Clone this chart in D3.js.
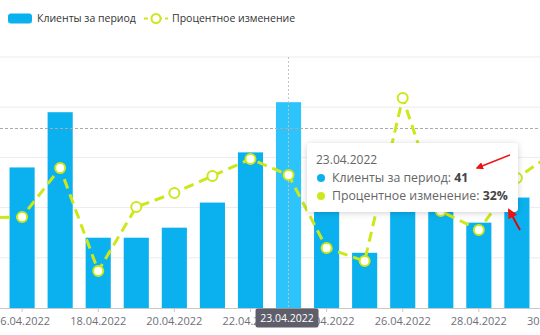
<!DOCTYPE html>
<html>
<head>
<meta charset="utf-8">
<script src="https://cdn.jsdelivr.net/npm/d3@7"></script>
<style>
  body { margin: 0; background: #fff; font-family: "Open Sans", "Noto Sans", sans-serif; }
  svg { display: block; }
</style>
</head>
<body>
<svg id="chart" width="540" height="335"></svg>
<script>
// data (15.04 and 30.04 are mostly cut off at the edges)
var dates = ["15.04.2022","16.04.2022","17.04.2022","18.04.2022","19.04.2022","20.04.2022","21.04.2022","22.04.2022",
             "23.04.2022","24.04.2022","25.04.2022","26.04.2022","27.04.2022","28.04.2022","29.04.2022","30.04.2022"];
var clients = [31, 28, 39, 14, 14, 16, 21, 31, 41, 24, 11, 23, 22, 17, 22, 34];
var pctChange = [-11, -10, 39, -64, 0, 14, 31, 48, 32, -41, -54, 109, -4, -23, 29, 55];
var yTicks = [0, 10, 20, 30, 40, 50];
var labelDates = ["16.04.2022","18.04.2022","20.04.2022","22.04.2022","24.04.2022","26.04.2022","28.04.2022","30.04.2022"];
var activeDate = "23.04.2022";

var barColor = "#0bb0ee",
    barHover = "#2cc4fb",
    lineColor = "#cde81a";

var svg = d3.select("#chart");

var x = d3.scaleBand()
    .domain(dates)
    .range([-35, 574])
    .paddingInner(0.34)
    .paddingOuter(0.17);

var y = d3.scaleLinear().domain([0, 50]).range([308, 57]);
var y2 = d3.scaleLinear().domain([-100, 100]).range([307, 107]);

// grid
svg.append("g").selectAll("line")
    .data(yTicks.slice(1))
    .enter().append("line")
    .attr("x1", 0).attr("x2", 540)
    .attr("y1", function(d) { return y(d); })
    .attr("y2", function(d) { return y(d); })
    .attr("stroke", "#ececec")
    .attr("stroke-width", 1);

// bars
svg.append("g").selectAll("rect")
    .data(dates)
    .enter().append("rect")
    .attr("x", function(d) { return x(d); })
    .attr("width", x.bandwidth())
    .attr("y", function(d, i) { return y(clients[i]); })
    .attr("height", function(d, i) { return y(0) - y(clients[i]); })
    .attr("fill", function(d) { return d == activeDate ? barHover : barColor; });

// crosshair
var cx = x(activeDate) + x.bandwidth() / 2;
svg.append("line")
    .attr("x1", cx).attr("x2", cx).attr("y1", 57).attr("y2", 308)
    .attr("stroke", "#c4c4c4").attr("stroke-dasharray", "2,2");
svg.append("line")
    .attr("x1", 0).attr("x2", 540).attr("y1", 128.5).attr("y2", 128.5)
    .attr("stroke", "#aaa").attr("stroke-dasharray", "3,2");

// x axis
var xAxis = svg.append("g")
    .attr("transform", "translate(0,308)")
    .call(d3.axisBottom(x).tickValues(labelDates).tickSize(4).tickPadding(5));
xAxis.select(".domain").attr("stroke", "#c8c8c8");
xAxis.selectAll(".tick line").attr("stroke", "#c8c8c8");
xAxis.selectAll(".tick text")
    .attr("fill", "#6e7079")
    .style("font-family", "Open Sans, sans-serif")
    .style("font-size", "11px");

// highlighted axis label
var hl = svg.append("g").attr("transform", "translate(" + cx + ",318)");
hl.append("rect")
    .attr("x", -33).attr("y", -9.5).attr("width", 63).attr("height", 19).attr("rx", 2)
    .attr("fill", "#5f5f6b");
hl.append("text")
    .attr("x", -1.5).attr("dy", "0.35em")
    .attr("text-anchor", "middle")
    .attr("fill", "#fff")
    .style("font-size", "10.5px")
    .text(activeDate);

// percent change line
var line = d3.line()
    .x(function(d, i) { return x(dates[i]) + x.bandwidth() / 2; })
    .y(function(d) { return y2(d); });

svg.append("path")
    .datum(pctChange)
    .attr("fill", "none")
    .attr("stroke", lineColor)
    .attr("stroke-width", 3)
    .attr("stroke-dasharray", "10,6")
    .attr("d", line);

svg.append("g").selectAll("circle")
    .data(pctChange)
    .enter().append("circle")
    .attr("cx", function(d, i) { return x(dates[i]) + x.bandwidth() / 2; })
    .attr("cy", function(d) { return y2(d); })
    .attr("r", 5)
    .attr("fill", "#fff")
    .attr("stroke", lineColor)
    .attr("stroke-width", 2);

// legend
var lg = svg.append("g").style("font-size", "10.5px");
lg.append("rect").attr("x", 8).attr("y", 13.5).attr("width", 24).attr("height", 10).attr("rx", 3).attr("fill", barColor);
lg.append("text").attr("x", 37).attr("y", 18.5).attr("dy", "0.35em").attr("fill", "#333").text("Клиенты за период");
lg.append("line").attr("x1", 144).attr("x2", 168).attr("y1", 18.5).attr("y2", 18.5)
    .attr("stroke", lineColor).attr("stroke-width", 2).attr("stroke-dasharray", "4,3");
lg.append("circle").attr("cx", 156).attr("cy", 18.5).attr("r", 4.5)
    .attr("fill", "#fff").attr("stroke", lineColor).attr("stroke-width", 2);
lg.append("text").attr("x", 172).attr("y", 18.5).attr("dy", "0.35em").attr("fill", "#333").text("Процентное изменение");

// tooltip
var defs = svg.append("defs");
var f = defs.append("filter").attr("id", "shadow").attr("x", "-20%").attr("y", "-30%").attr("width", "140%").attr("height", "160%");
f.append("feDropShadow").attr("dx", 0).attr("dy", 1).attr("stdDeviation", 3).attr("flood-color", "#000").attr("flood-opacity", 0.18);

var tip = svg.append("g").attr("transform", "translate(307,143)");
tip.append("rect")
    .attr("width", 211).attr("height", 69).attr("rx", 4)
    .attr("fill", "#fff")
    .attr("filter", "url(#shadow)");
tip.append("text").attr("x", 9).attr("y", 21)
    .attr("fill", "#666").style("font-size", "12px").text(activeDate);

var ai = dates.indexOf(activeDate);
var rows = [
  { color: barColor, label: "Клиенты за период: ", value: clients[ai] },
  { color: lineColor, label: "Процентное изменение: ", value: pctChange[ai] + "%" }
];
rows.forEach(function(r, i) {
  var yy = 35 + i * 18;
  tip.append("circle").attr("cx", 14).attr("cy", yy).attr("r", 4).attr("fill", r.color);
  var t = tip.append("text").attr("x", 25).attr("y", yy).attr("dy", "0.35em")
      .attr("fill", "#666").style("font-size", "12.3px");
  t.append("tspan").text(r.label);
  t.append("tspan").attr("font-weight", "bold").attr("fill", "#444").text(r.value);
});

// red annotation arrows
var mk = defs.append("marker").attr("id", "arrow")
    .attr("viewBox", "0 0 10 10").attr("refX", 8).attr("refY", 5)
    .attr("markerWidth", 5).attr("markerHeight", 5).attr("orient", "auto");
mk.append("path").attr("d", "M0,0 L10,5 L0,10 z").attr("fill", "#e11");

svg.append("line").attr("x1", 510).attr("y1", 155).attr("x2", 477).attr("y2", 168)
    .attr("stroke", "#e11").attr("stroke-width", 1.5).attr("marker-end", "url(#arrow)");
svg.append("line").attr("x1", 520).attr("y1", 230).attr("x2", 509).attr("y2", 210)
    .attr("stroke", "#c11").attr("stroke-width", 2).attr("marker-end", "url(#arrow)");
</script>
</body>
</html>
